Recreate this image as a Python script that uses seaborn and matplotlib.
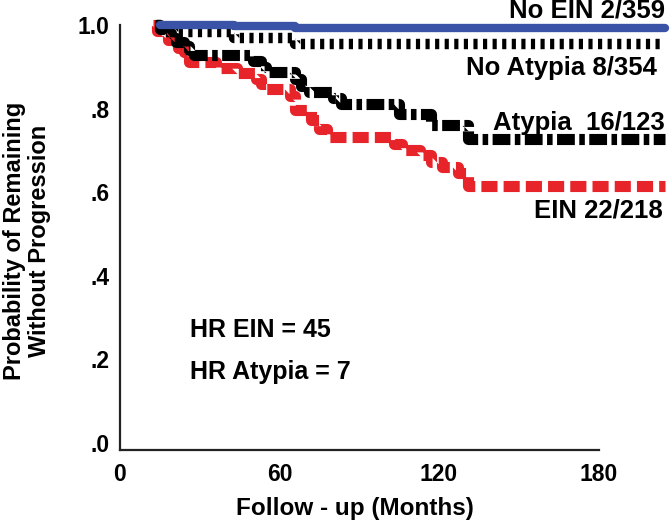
import matplotlib
matplotlib.use("Agg")
import matplotlib.pyplot as plt
import pandas as pd
import seaborn as sns

# ---- data ----
months_no_ein = [15, 43, 66, 205]
surv_no_ein = [1.0, 0.997, 0.993, 0.993]

months_no_atypia = [14, 16, 20, 43, 66, 205]
surv_no_atypia = [1.0, 0.99, 0.983, 0.97, 0.955, 0.955]

months_atypia = [13, 15, 17, 19, 21, 24, 26, 28, 50, 53, 55, 66, 68, 71, 80, 83,
                 105, 117, 131, 205]
surv_atypia = [1.0, 0.99, 0.98, 0.97, 0.96, 0.95, 0.94, 0.928, 0.915, 0.90, 0.888,
               0.87, 0.855, 0.84, 0.825, 0.81, 0.787, 0.76, 0.727, 0.727]

months_ein = [12.5, 14, 16, 18, 20, 22, 24, 26, 36, 44, 51, 53, 55, 64, 66, 72, 75,
              78, 103, 106, 113, 117, 121, 127, 131, 205]
surv_ein = [1.0, 0.985, 0.975, 0.965, 0.955, 0.945, 0.935, 0.912, 0.897, 0.885,
            0.87, 0.858, 0.848, 0.83, 0.797, 0.772, 0.752, 0.732, 0.715, 0.70,
            0.69, 0.672, 0.66, 0.645, 0.615, 0.615]

series_labels = ["No EIN 2/359", "No Atypia 8/354", "Atypia  16/123", "EIN 22/218"]
hr_labels = ["HR EIN = 45", "HR Atypia = 7"]
x_ticks = [0, 60, 120, 180]
x_ticklabels = ["0", "60", "120", "180"]
y_ticks = [0.0, 0.2, 0.4, 0.6, 0.8, 1.0]
y_ticklabels = [".0", ".2", ".4", ".6", ".8", "1.0"]

# ---- style ----
sns.set_theme(style="white")
plt.rcParams['font.family'] = ['Liberation Sans', 'DejaVu Sans']
plt.rcParams['font.weight'] = 'bold'
plt.rcParams['text.color'] = 'black'
plt.rcParams['axes.labelcolor'] = 'black'
plt.rcParams['xtick.color'] = 'black'
plt.rcParams['ytick.color'] = 'black'

W, H = 670, 529
fig = plt.figure(figsize=(W / 100, H / 100), dpi=100)
ax = fig.add_axes([120 / W, (H - 443) / H, (665 - 120) / W, (443 - 25) / H])

df_no_ein = pd.DataFrame({"m": months_no_ein, "s": surv_no_ein})
df_no_atypia = pd.DataFrame({"m": months_no_atypia, "s": surv_no_atypia})
df_atypia = pd.DataFrame({"m": months_atypia, "s": surv_atypia})
df_ein = pd.DataFrame({"m": months_ein, "s": surv_ein})

sns.lineplot(data=df_ein, x="m", y="s", ax=ax, drawstyle="steps-post",
             color="#e8242b", lw=8, linestyle=(0, (1.45, 0.55)), clip_on=False)
sns.lineplot(data=df_atypia, x="m", y="s", ax=ax, drawstyle="steps-post",
             color="black", lw=8, linestyle=(0, (1.6, 0.4, 0.5, 0.4)), clip_on=False)
sns.lineplot(data=df_no_atypia, x="m", y="s", ax=ax, drawstyle="steps-post",
             color="black", lw=7.5, linestyle=(0, (0.4, 0.52)), clip_on=False)
sns.lineplot(data=df_no_ein, x="m", y="s", ax=ax, drawstyle="steps-post",
             color="#3a53a6", lw=6, linestyle="-", clip_on=False)

ax.set_xlim(0, 205)
ax.set_ylim(0, 1.0)
ax.set_xticks(x_ticks)
ax.set_xticklabels(x_ticklabels)
ax.set_yticks(y_ticks)
ax.set_yticklabels(y_ticklabels)
ax.set_xlabel("")
ax.set_ylabel("")

for s in ["top", "right"]:
    ax.spines[s].set_visible(False)
ax.spines["bottom"].set_position(("outward", 5))
ax.spines["bottom"].set_bounds(0, 180)
ax.spines["left"].set_bounds(-0.017, 1.0)
for s in ["bottom", "left"]:
    ax.spines[s].set_color("#222222")
    ax.spines[s].set_linewidth(1.6)

ax.tick_params(axis="both", direction="out", length=2.5, width=1.5, color="#222222",
               labelsize=16.5, labelcolor="black")
ax.tick_params(axis="x", pad=7)
ax.tick_params(axis="y", pad=5)
for lab in ax.get_xticklabels() + ax.get_yticklabels():
    lab.set_fontweight("bold")

# series labels
label_pos = [(665, 11), (657, 68), (665, 123), (663, 211)]
for txt, (px, py) in zip(series_labels, label_pos):
    fig.text(px / W, 1 - py / H, txt, ha="right", va="center", fontsize=18.5,
             fontweight="bold", color="black")

# hazard ratio notes
hr_pos = [(190, 330), (190, 372)]
for txt, (px, py) in zip(hr_labels, hr_pos):
    fig.text(px / W, 1 - py / H, txt, ha="left", va="center", fontsize=18,
             fontweight="bold", color="black")

# axis titles
fig.text(27 / W, 1 - 241 / H, "Probability of Remaining\nWithout Progression",
         rotation=90, ha="center", va="center", fontsize=17, fontweight="bold",
         linespacing=1.1, color="black")
fig.text(355 / W, 1 - 508 / H, "Follow - up (Months)", ha="center", va="center",
         fontsize=17.5, fontweight="bold", color="black")

fig.savefig("out.png", dpi=100)
